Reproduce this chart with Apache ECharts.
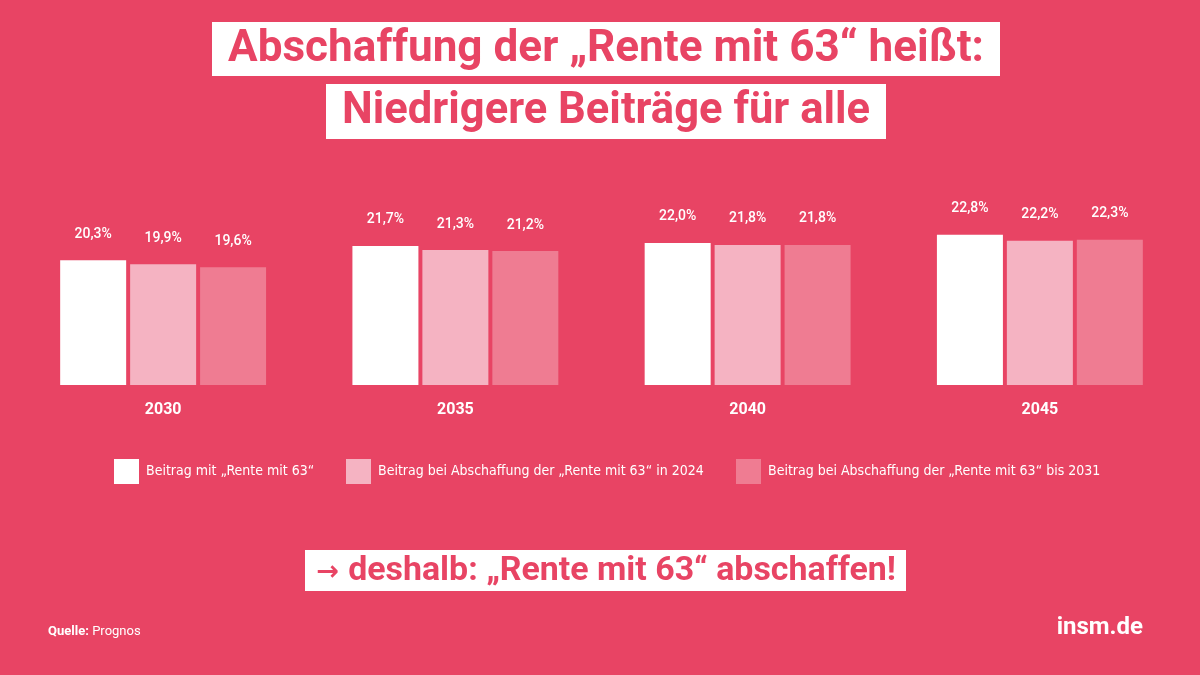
<!DOCTYPE html>
<html>
<head>
<meta charset="utf-8">
<script src="https://cdn.jsdelivr.net/npm/echarts@6/dist/echarts.min.js"></script>
<style>html,body{margin:0;padding:0;background:#E84464;}#c{width:1200px;height:675px;}</style>
</head>
<body>
<div id="c"></div>
<script>
const categories = ['2030', '2035', '2040', '2045'];
const seriesNames = [
  'Beitrag mit „Rente mit 63“',
  'Beitrag bei Abschaffung der „Rente mit 63“ in 2024',
  'Beitrag bei Abschaffung der „Rente mit 63“ bis 2031'
];
const withRente63 = [20.3, 21.7, 22.0, 22.8];
const abolish2024 = [19.9, 21.3, 21.8, 22.2];
const abolish2031 = [19.6, 21.2, 21.8, 22.3];
const titleLine1 = 'Abschaffung der „Rente mit 63“ heißt:';
const titleLine2 = 'Niedrigere Beiträge für alle';
const arrow = '→';
const callToAction = 'deshalb: „Rente mit 63“ abschaffen!';

const BG = '#E84464';
const colors = ['#FFFFFF', '#F5B3C2', '#EF7C92'];
const condensed = '"DejaVu Sans Condensed", "Roboto", sans-serif';

const measureCtx = document.createElement('canvas').getContext('2d');
function textWidth(text, font) {
  measureCtx.font = font;
  return measureCtx.measureText(text).width;
}

function bar(name, data, color) {
  return {
    name: name, type: 'bar', data: data,
    barWidth: 66, barGap: '6%',
    itemStyle: { color: color },
    label: {
      show: true, position: 'top', distance: 19,
      color: '#FFFFFF', fontFamily: 'Roboto', fontWeight: 500, fontSize: 14,
      formatter: p => p.value.toFixed(1).replace('.', ',') + '%'
    }
  };
}

function legendItem(i, left) {
  return {
    data: [seriesNames[i]], left: left, top: 454,
    itemWidth: 25, itemHeight: 25, itemGap: 0,
    icon: 'rect',
    textStyle: { color: '#FFFFFF', fontFamily: condensed, fontSize: 14, padding: [0, 0, 0, 2] },
    selectedMode: false
  };
}

function boxText(text, cx, cy, fontSize, width) {
  const font = 'bold ' + fontSize + 'px Roboto';
  const s = width / textWidth(text, font);
  return { type: 'text', x: cx, y: cy, scaleX: s, style: { text: text, fill: BG, font: font, textAlign: 'center', textVerticalAlign: 'middle' } };
}

function arrowText(cx, cy, fontSize, width) {
  const mainFont = 'bold ' + fontSize + 'px Roboto';
  const arrowFont = 'bold ' + (fontSize * 0.8) + 'px "DejaVu Sans"';
  const w = textWidth(arrow + ' ', arrowFont) + textWidth(callToAction, mainFont);
  const s = width / w;
  return {
    type: 'text', x: cx, y: cy, scaleX: s,
    style: {
      text: '{a|' + arrow + ' }{m|' + callToAction + '}', textAlign: 'center', textVerticalAlign: 'middle',
      rich: {
        a: { fontFamily: '"DejaVu Sans"', fontWeight: 'bold', fontSize: fontSize * 0.8, fill: BG, color: BG, padding: [3, 0, 0, 0] },
        m: { fontFamily: 'Roboto', fontWeight: 'bold', fontSize: fontSize, fill: BG, color: BG }
      }
    }
  };
}

const chart = echarts.init(document.getElementById('c'));
chart.setOption({
  backgroundColor: BG,
  animation: false,
  grid: { left: 17, right: 14, top: 182, bottom: 290 },
  xAxis: {
    type: 'category', data: categories,
    axisLine: { show: false }, axisTick: { show: false },
    axisLabel: { color: '#FFFFFF', fontFamily: 'Roboto', fontWeight: 'bold', fontSize: 16, margin: 17 }
  },
  yAxis: { type: 'value', min: 8, max: 28, show: false, splitLine: { show: false } },
  legend: [legendItem(0, 109), legendItem(1, 341), legendItem(2, 731)],
  series: [
    bar(seriesNames[0], withRente63, colors[0]),
    bar(seriesNames[1], abolish2024, colors[1]),
    bar(seriesNames[2], abolish2031, colors[2])
  ],
  graphic: [
    { type: 'rect', shape: { x: 212, y: 22, width: 788, height: 54 }, style: { fill: '#FFFFFF' } },
    boxText(titleLine1, 606, 50, 44, 756),
    { type: 'rect', shape: { x: 326, y: 84, width: 560, height: 55 }, style: { fill: '#FFFFFF' } },
    boxText(titleLine2, 606, 112, 44, 528),
    { type: 'rect', shape: { x: 305, y: 550, width: 601, height: 41 }, style: { fill: '#FFFFFF' } },
    arrowText(606, 571, 34, 580),
    { type: 'text', x: 48, y: 632, style: {
        text: '{b|Quelle:} {r|Prognos}', textVerticalAlign: 'middle',
        rich: {
          b: { fontFamily: 'Roboto', fontWeight: 'bold', fontSize: 13, fill: '#FFFFFF', color: '#FFFFFF' },
          r: { fontFamily: 'Roboto', fontSize: 13, fill: '#FFFFFF', color: '#FFFFFF' }
        } } },
    { type: 'text', x: 1143, y: 628, style: { text: 'insm.de', fill: '#FFFFFF', font: 'bold 24px Roboto', textAlign: 'right', textVerticalAlign: 'middle' } }
  ]
});
</script>
</body>
</html>
